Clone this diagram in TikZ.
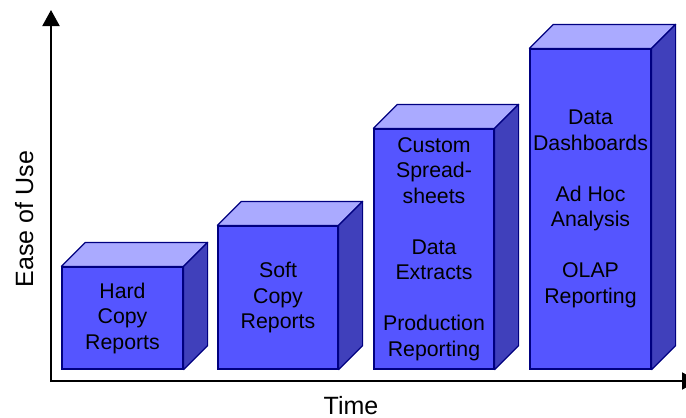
\documentclass[tikz,border=0pt]{standalone}
\usepackage{fontspec}
\setmainfont{Liberation Sans}
\usetikzlibrary{arrows.meta}
\definecolor{frontc}{RGB}{85,85,255}
\definecolor{topc}{RGB}{170,170,255}
\definecolor{sidec}{RGB}{64,64,187}
\definecolor{edgec}{RGB}{0,0,128}
\begin{document}
\begin{tikzpicture}[x=1pt,y=-1pt,
  front/.style={draw=edgec,fill=frontc,line width=1.2pt,inner sep=0pt,align=center,
    font=\fontsize{21.3}{25.5}\selectfont},
  topface/.style={draw=edgec,fill=topc,line width=1.2pt,line join=round},
  sideface/.style={draw=edgec,fill=sidec,line width=1.2pt,line join=round},
  axis/.style={line width=2pt,-{Triangle[length=16pt,width=17pt]}},
  lbl/.style={inner sep=0pt,anchor=base}]
\useasboundingbox (0,0) rectangle (686,418);
% axes
\coordinate (O) at (51,381);
\coordinate (ytip) at (51,10);
\coordinate (xtip) at (698,381);
\draw[axis] ([yshift=-1pt]O) -- (ytip);
\draw[axis] (O) -- (xtip);
% boxes (front faces)
\node[front,minimum width=121pt,minimum height=102pt] (b1) at (122.5,318) {Hard\\Copy\\Reports};
\node[front,minimum width=120pt,minimum height=143pt] (b2) at (278,297.5) {Soft\\Copy\\Reports};
\node[front,minimum width=120pt,minimum height=240pt] (b3) at (434,249)
  {Custom\\Spread-\\sheets\\[25.5pt]Data\\Extracts\\[25.5pt]Production\\Reporting};
\node[front,minimum width=121pt,minimum height=320pt] (b4) at (590.5,209)
  {Data\\Dashboards\\[25.5pt]Ad Hoc\\Analysis\\[25.5pt]OLAP\\Reporting};
\foreach \n in {b1,b2,b3,b4}{
  \draw[topface] (\n.north west) -- ++(24,-24) -- ([shift={(24,-24)}]\n.north east) -- (\n.north east) -- cycle;
  \draw[sideface] (\n.north east) -- ++(24,-24) -- ([shift={(24,-24)}]\n.south east) -- (\n.south east) -- cycle;
}
% axis labels
\node[lbl,rotate=90,font=\fontsize{25}{30}\selectfont] (ylab) at (33,219) {Ease of Use};
\node[lbl,font=\fontsize{25}{30}\selectfont] (xlab) at (351,414.5) {Time};
\end{tikzpicture}
\end{document}
